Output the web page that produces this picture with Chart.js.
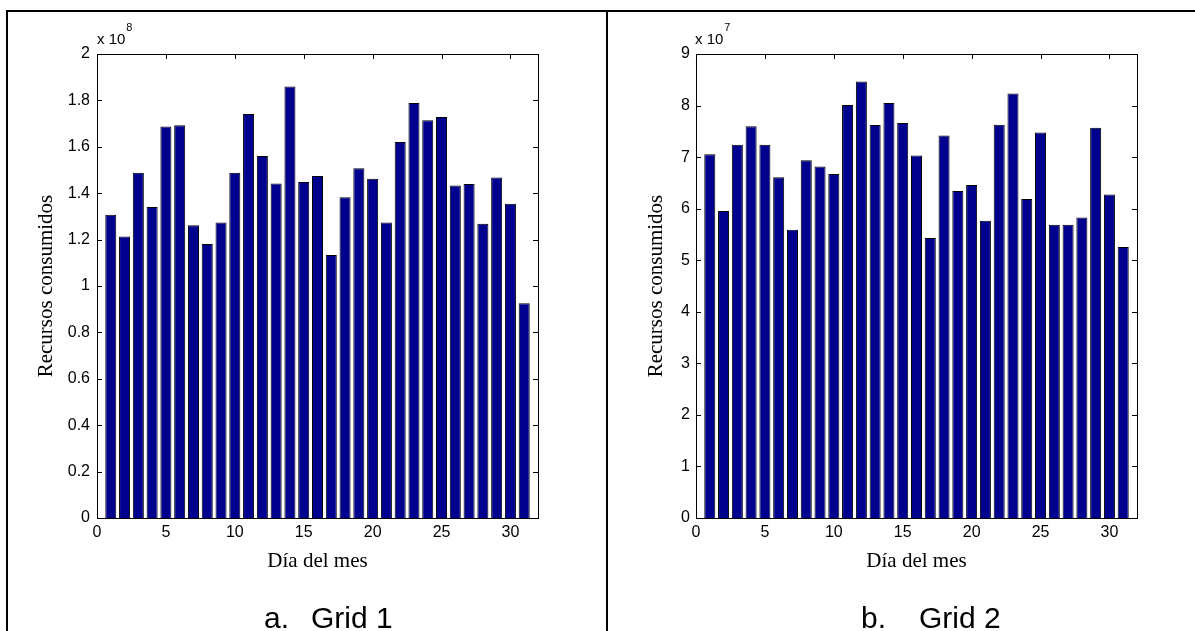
<!DOCTYPE html>
<html><head><meta charset="utf-8">
<script src="https://cdn.jsdelivr.net/npm/chart.js"></script>
<style>
html,body{margin:0;padding:0;background:#fff;width:1195px;height:631px;overflow:hidden;position:relative}
canvas{position:absolute;top:0}
.line{position:absolute;background:#000;z-index:2}
.exp{position:absolute;top:31px;font:15px 'Liberation Sans',Arial,sans-serif;line-height:15px;color:#000;white-space:nowrap}
.exp span{font-size:11px;position:relative;top:-13px;margin-left:1px}
.cap{position:absolute;top:603px;font:30px 'Liberation Sans',Arial,sans-serif;line-height:30px;color:#000;white-space:nowrap}
</style></head><body>
<canvas id="c1" width="600" height="631" style="left:0"></canvas>
<canvas id="c2" width="595" height="631" style="left:600px"></canvas>
<div class="line" style="left:6px;top:10px;width:1189px;height:2px"></div>
<div class="line" style="left:6px;top:10px;width:2px;height:621px"></div>
<div class="line" style="left:606px;top:10px;width:2px;height:621px"></div>
<div class="exp" style="left:97px">x 10<span>8</span></div>
<div class="exp" style="left:695px">x 10<span>7</span></div>
<div class="cap" style="left:264px"><span>a.</span><span style="margin-left:22px">Grid 1</span></div>
<div class="cap" style="left:861px"><span>b.</span><span style="margin-left:33px">Grid 2</span></div>
<script>
const days = [1,2,3,4,5,6,7,8,9,10,11,12,13,14,15,16,17,18,19,20,21,22,23,24,25,26,27,28,29,30,31];
// Recursos consumidos, Grid 1 (x 10^8)
const grid1 = [1.307,1.213,1.488,1.341,1.688,1.693,1.262,1.181,1.274,1.488,1.741,1.560,1.442,1.860,1.448,1.474,1.134,1.383,1.508,1.462,1.274,1.621,1.789,1.714,1.728,1.433,1.440,1.268,1.468,1.354,0.926];
// Recursos consumidos, Grid 2 (x 10^7)
const grid2 = [7.057,5.953,7.240,7.597,7.240,6.609,5.589,6.940,6.817,6.674,8.012,8.467,7.622,8.051,7.661,7.030,5.433,7.420,6.342,6.459,5.764,7.629,8.233,6.186,7.479,5.686,5.686,5.829,7.571,6.277,5.257];
const xTicks = [0,5,10,15,20,25,30];
const xTickLabels = ['0','5','10','15','20','25','30'];
const yTicks1 = [0,0.2,0.4,0.6,0.8,1,1.2,1.4,1.6,1.8,2];
const yTickLabels1 = ['0','0.2','0.4','0.6','0.8','1','1.2','1.4','1.6','1.8','2'];
const yTicks2 = [0,1,2,3,4,5,6,7,8,9];
const yTickLabels2 = ['0','1','2','3','4','5','6','7','8','9'];
const xTitle = 'Día del mes';
const yTitle = 'Recursos consumidos';

const tickFont = {family:"'Liberation Sans', Arial, sans-serif", size:16};
const titleFont = {family:"'Liberation Serif', 'Times New Roman', serif", size:21, lineHeight:1.2};

const matlabAxes = {
  id:'matlabAxes',
  beforeDatasetsDraw(chart){
    const {ctx, chartArea:a, scales:{x,y}} = chart;
    const L = 5;
    ctx.save();
    ctx.strokeStyle = '#000'; ctx.lineWidth = 1;
    ctx.beginPath();
    for (const t of y.ticks){
      const py = Math.round(y.getPixelForValue(t.value)) + 0.5;
      ctx.moveTo(a.left, py); ctx.lineTo(a.left + L, py);
      ctx.moveTo(a.right, py); ctx.lineTo(a.right - L, py);
    }
    for (const t of x.ticks){
      const px = Math.round(x.getPixelForValue(t.value)) + 0.5;
      ctx.moveTo(px, a.top); ctx.lineTo(px, a.top + L);
      ctx.moveTo(px, a.bottom); ctx.lineTo(px, a.bottom - L);
    }
    ctx.stroke();
    ctx.restore();
  },
  afterDatasetsDraw(chart){
    const {ctx, chartArea:a} = chart;
    ctx.save();
    ctx.strokeStyle = '#000'; ctx.lineWidth = 1;
    ctx.strokeRect(Math.round(a.left)+0.5, Math.round(a.top)+0.5, Math.round(a.right-a.left), Math.round(a.bottom-a.top));
    ctx.restore();
  }
};

function makeChart(id, values, yMax, yTicks, yLabels, yWidth, padRight, yLabelPad, yTitlePad){
  return new Chart(document.getElementById(id), {
    type:'bar',
    data:{datasets:[{
      data: days.map((d,i)=>({x:d, y:values[i]})),
      backgroundColor:'#00008F', borderColor:'#000000', borderWidth:1,
      barPercentage:0.8, categoryPercentage:1
    }]},
    options:{
      responsive:false, maintainAspectRatio:false, animation:false, devicePixelRatio:1,
      layout:{padding:{left:0, right:padRight, top:54, bottom:0}},
      plugins:{legend:{display:false}, tooltip:{enabled:false}, title:{display:false}},
      scales:{
        x:{
          type:'linear', min:0, max:32, offset:false,
          grid:{display:false, drawTicks:false, offset:false},
          border:{display:false},
          afterBuildTicks(s){ s.ticks = xTicks.map(v=>({value:v})); },
          afterFit(s){ s.height = 113; },
          ticks:{font:tickFont, color:'#000', padding:5, maxRotation:0, autoSkip:false,
            callback:(v,i)=>xTickLabels[i]},
          title:{display:true, text:xTitle, color:'#000', font:titleFont, padding:{top:0,bottom:57}}
        },
        y:{
          type:'linear', min:0, max:yMax,
          grid:{display:false, drawTicks:false},
          border:{display:false},
          afterBuildTicks(s){ s.ticks = yTicks.map(v=>({value:v})); },
          afterFit(s){ s.width = yWidth; },
          ticks:{font:tickFont, color:'#000', padding:yLabelPad, autoSkip:false,
            callback:(v,i)=>yLabels[i]},
          title:{display:true, text:yTitle, color:'#000', font:titleFont, padding:{top:yTitlePad,bottom:0}}
        }
      }
    },
    plugins:[matlabAxes]
  });
}
makeChart('c1', grid1, 2, yTicks1, yTickLabels1, 97, 62, 7, 34);
makeChart('c2', grid2, 9, yTicks2, yTickLabels2, 96, 58, 6, 44);
</script>
</body></html>
